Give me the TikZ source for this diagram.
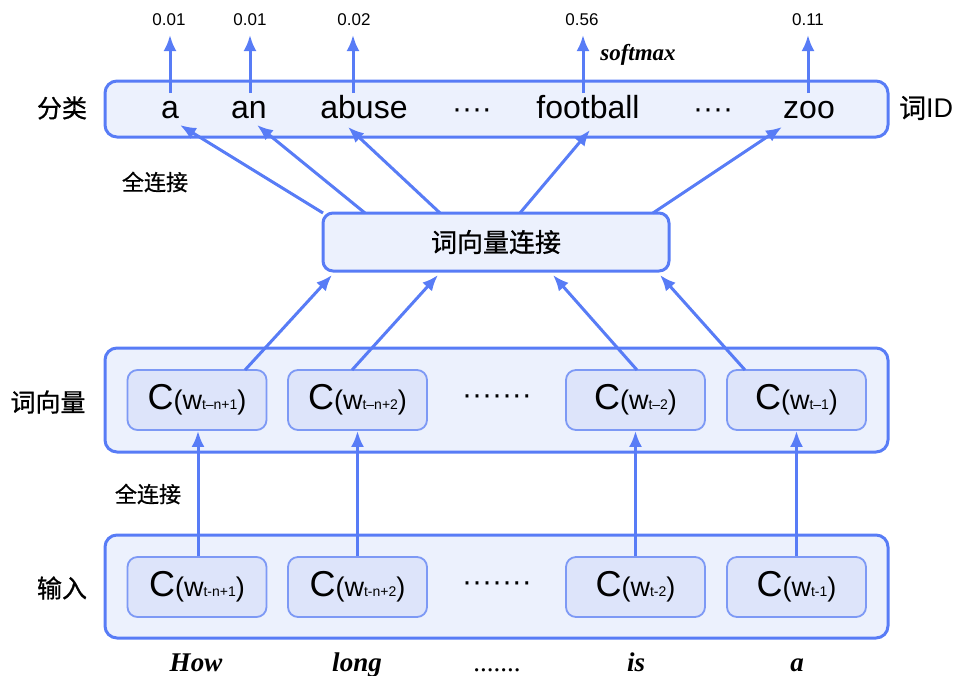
\documentclass[tikz,border=0pt]{standalone}
\usepackage{fontspec}
\setmainfont{Liberation Sans}
\newfontfamily\cjk[FakeBold=0.8]{Noto Sans CJK SC}
\newfontfamily\tms{Liberation Serif}
\usetikzlibrary{arrows.meta}
\definecolor{lblue}{RGB}{88,124,246}
\definecolor{bigfill}{RGB}{236,241,253}
\definecolor{cfill}{RGB}{221,228,250}
\definecolor{cbord}{RGB}{125,153,245}
\newcommand\fsz[1]{\fontsize{#1}{#1}\selectfont}
\newcommand\cwu[1]{{\fsz{36}C}{\fsz{27}(w}{\fsz{14}#1}{\fsz{27})}}
\tikzset{
  bigbox/.style={draw=lblue, fill=bigfill, line width=3pt, rounded corners=12pt, inner sep=0pt},
  cbox/.style={draw=cbord, fill=cfill, line width=1.8pt, rounded corners=10pt, minimum width=139pt, minimum height=60pt, inner sep=0pt},
  arr/.style={draw=lblue, line width=3pt, -{Latex[length=16pt,width=13pt]}},
  word/.style={font=\fsz{32}, anchor=base, inner sep=0pt},
  prob/.style={font=\fsz{17}, inner sep=0pt},
  cjklab/.style={font=\cjk\fsz{25}, inner sep=0pt},
  fclab/.style={font=\cjk\fsz{22}, inner sep=0pt},
  itword/.style={font=\tms\bfseries\itshape\fsz{27}, inner sep=0pt, anchor=base}
}
\begin{document}
\begin{tikzpicture}[x=1pt,y=-1pt]
\useasboundingbox (0,0) rectangle (957,675);
% big boxes
\node[bigbox, minimum width=783pt, minimum height=56pt] (cls) at (496.5,109) {};
\node[bigbox, minimum width=346pt, minimum height=58pt, rounded corners=10pt, font=\cjk\fsz{26}] (cat) at (496,242) {词向量连接};
\node[bigbox, minimum width=783pt, minimum height=104pt] (emb) at (496.5,400) {};
\node[bigbox, minimum width=783pt, minimum height=103pt] (inp) at (496.5,586.5) {};
% words in classifier
\node[word] (wa) at (170,118) {a};
\node[word] (wan) at (249,118) {an};
\node[word] (wab) at (364,118) {abuse};
\node[word, font=\fsz{30}] (wd1) at (472,118) {····};
\node[word] (wfb) at (588,118) {football};
\node[word, font=\fsz{30}] (wd2) at (713,118) {····};
\node[word] (wzoo) at (809,118) {zoo};
% probabilities
\node[prob] (p1) at (169,20) {0.01};
\node[prob] (p2) at (250,20) {0.01};
\node[prob] (p3) at (354,20) {0.02};
\node[prob] (p4) at (582,20) {0.56};
\node[prob] (p5) at (808,20) {0.11};
\node[font=\tms\bfseries\itshape\fsz{23}, inner sep=0pt] (sm) at (638,55) {softmax};
% side labels
\node[cjklab] (l1) at (62,108) {分类};
\node[cjklab, anchor=west, font=\cjk\fsz{27}] (l2) at (899,108) {词\fontspec{Liberation Sans}ID};
\node[fclab] (l3) at (155,182) {全连接};
\node[cjklab] (l4) at (48,402) {词向量};
\node[fclab] (l5) at (148,494) {全连接};
\node[cjklab] (l6) at (62,588) {输入};
% embedding boxes
\node[cbox] (e1) at (197,400) {\cwu{t–n+1}};
\node[cbox] (e2) at (357.5,400) {\cwu{t–n+2}};
\node[font=\fsz{30}, inner sep=0pt] (ed) at (497,400) {·······};
\node[cbox] (e3) at (635.5,400) {\cwu{t–2}};
\node[cbox] (e4) at (796.5,400) {\cwu{t–1}};
% input boxes
\node[cbox] (i1) at (197,587) {\cwu{t-n+1}};
\node[cbox] (i2) at (357.5,587) {\cwu{t-n+2}};
\node[font=\fsz{30}, inner sep=0pt] (id) at (497,587) {·······};
\node[cbox] (i3) at (635.5,587) {\cwu{t-2}};
\node[cbox] (i4) at (796.5,587) {\cwu{t-1}};
% bottom words
\node[itword] (b1) at (196,671) {How};
\node[itword] (b2) at (357,671) {long};
\node[itword, font=\tms\fsz{27}] (b3) at (497,671) {.......};
\node[itword] (b4) at (636,671) {is};
\node[itword] (b5) at (797,671) {a};
% coordinates
\foreach \n/\x in {a/170,b/250,c/353,d/583,e/808}{
  \coordinate (s\n) at (\x,93);
  \coordinate (t\n) at (\x,35);
}
\coordinate (ca) at (323,213); \coordinate (ha) at (180,125);
\coordinate (cb) at (365,213); \coordinate (hb) at (257,125);
\coordinate (cc) at (440,213); \coordinate (hc) at (348,127);
\coordinate (cd) at (520,213); \coordinate (hd) at (590,130);
\coordinate (ce) at (653,213); \coordinate (he) at (782,127);
\coordinate (ea) at (245,370); \coordinate (ga) at (332,275);
\coordinate (eb) at (352,370); \coordinate (gb) at (438,275);
\coordinate (ec) at (637,370); \coordinate (gc) at (553,275);
\coordinate (ed2) at (745,370); \coordinate (gd) at (660,275);
% arrows
\foreach \n in {a,b,c,d,e}{ \draw[arr] (s\n) -- (t\n); }
\foreach \n in {a,b,c,d,e}{ \draw[arr] (c\n) -- (h\n); }
\draw[arr] (ea) -- (ga);
\draw[arr] (eb) -- (gb);
\draw[arr] (ec) -- (gc);
\draw[arr] (ed2) -- (gd);
\draw[arr] (i1.north -| 198,0) -- (e1.south -| 198,0);
\draw[arr] (i2.north) -- (e2.south);
\draw[arr] (i3.north) -- (e3.south);
\draw[arr] (i4.north) -- (e4.south);
\end{tikzpicture}
\end{document}
